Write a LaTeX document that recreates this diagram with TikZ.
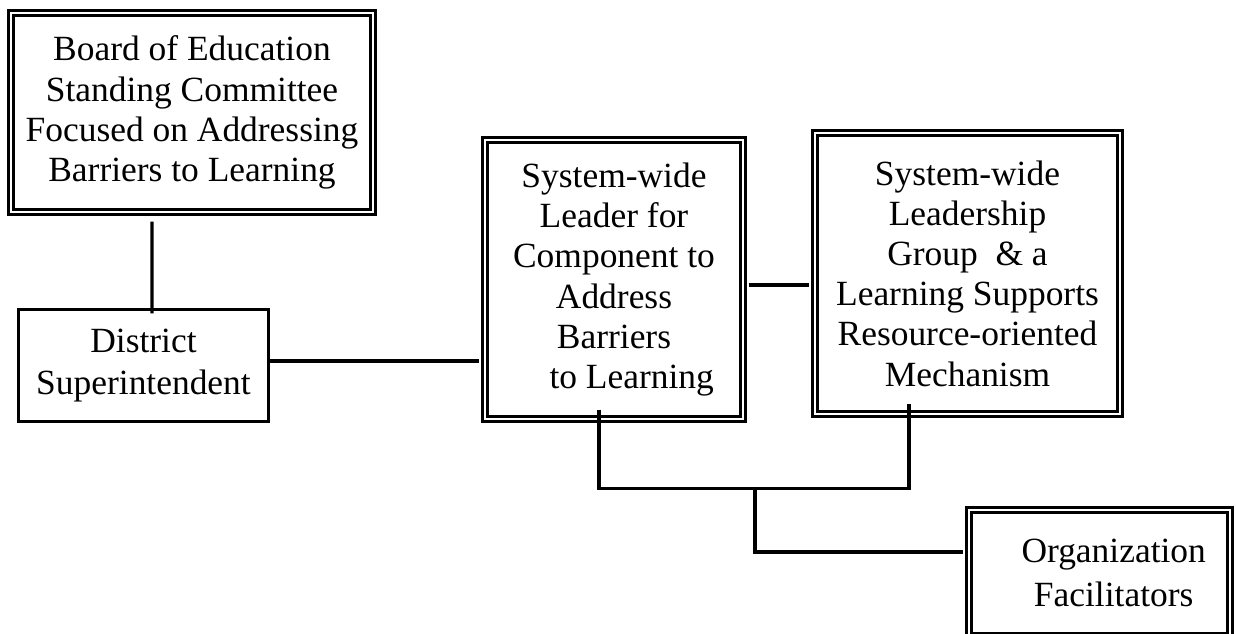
\documentclass[tikz,border=0pt]{standalone}
\usepackage{fontspec}
\setmainfont{Liberation Serif}
\usepackage{tikz}

\begin{document}
\begin{tikzpicture}[
    x=0.025cm, y=-0.025cm,
    every node/.style={anchor=center, align=center, inner sep=0pt, font=\fontsize{25.2}{28.6}\selectfont},
    office/.style={draw, line width=2.3pt},
    panel/.style={draw, double, line width=2.2pt, double distance=1.4pt},
    link/.style={-, line width=2.3pt}
    ]

\clip (0,0) rectangle (1236,633);

% Board and Superintendent
\node[panel, minimum width=9.05cm, minimum height=4.975cm] (Board) at (192,112.5)
    {Board of Education\\Standing Committee\\Focused on Addressing\\Barriers to Learning};
\node[office, minimum width=6.25cm, minimum height=2.8cm, font=\fontsize{25.2}{30}\selectfont] (District) at (143.5,365.5)
    {District\\Superintendent};

% System-wide leadership
\node[panel, minimum width=6.45cm, minimum height=6.975cm] (Leader) at (614,279.5)
    {System-wide\\Leader for\\Component to\\Address\hspace*{0.35em}\\Barriers\\\hspace*{1em}to Learning};
\node[panel, minimum width=7.625cm, minimum height=7.025cm] (Group) at (967.5,273.5)
    {System-wide\\Leadership\\Group\ \ \& a\\Learning Supports\\Resource-oriented\\Mechanism};

% Facilitators
\node[panel, minimum width=6.525cm, minimum height=3.15cm, font=\fontsize{25.2}{31}\selectfont] (Facilitators) at (1099.5,573)
    {\hspace*{0.8em}Organization\\\hspace*{0.8em}Facilitators};

% Lines between the boxes
\draw[link, shorten <=0.2cm, shorten >=-0.14cm] ([xshift=-1cm]Board.south) -- ([xshift=0.2125cm]District.north);
\draw[link, shorten >=0.1cm] (District.east |- 0,361) -- (Leader.west |- 0,361);
\draw[link, shorten <=0.1cm, shorten >=0.1cm] (Leader.east |- 0,285) -- (Group.west |- 0,285);
\draw[link] ([shift={(-15,-11)}]Leader.south) -- ++(0,79) -| ([shift={(-58.5,-12)}]Group.south);
\coordinate (Branch) at (755,487);
\draw[link, shorten >=0.1cm] (Branch) |- ([yshift=0.525cm]Facilitators.west);

\end{tikzpicture}
\end{document}
